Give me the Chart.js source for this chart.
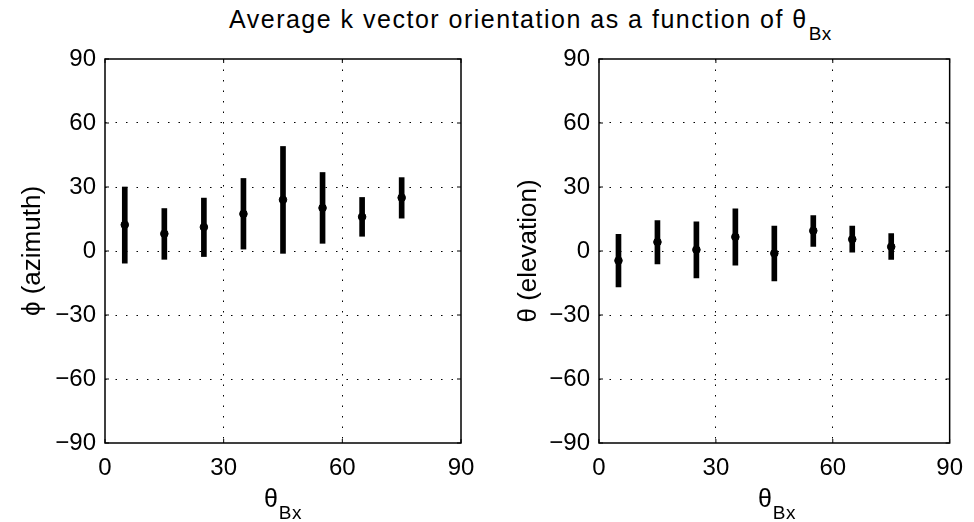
<!DOCTYPE html>
<html>
<head>
<meta charset="utf-8">
<script src="https://cdn.jsdelivr.net/npm/chart.js@4.4.1/dist/chart.umd.min.js"></script>
<style>
  html, body { margin:0; padding:0; background:#fff; }
  body { width:974px; height:522px; position:relative; overflow:hidden; font-family:"Liberation Sans", Arial, sans-serif; color:#000; }
  .cv { position:absolute; top:0; width:487px; height:522px; }
  #title { position:absolute; left:229px; top:4px; font-size:25px; letter-spacing:1.5px; white-space:nowrap; line-height:30px; }
  .xt { position:absolute; top:483px; font-size:25px; white-space:nowrap; line-height:30px; transform:translateX(-50%); }
  .sub { font-size:19px; position:relative; top:12px; margin-left:1px; letter-spacing:0.5px; }
</style>
</head>
<body>
<div id="title">Average k vector orientation as a function of θ<span class="sub">Bx</span></div>
<div class="cv" style="left:0"><canvas id="c1" width="487" height="522"></canvas></div>
<div class="cv" style="left:487px"><canvas id="c2" width="487" height="522"></canvas></div>
<div class="xt" style="left:283px">θ<span class="sub">Bx</span></div>
<div class="xt" style="left:777px">θ<span class="sub">Bx</span></div>
<script>
// ---- data ----
const thetaBx   = [5, 15, 25, 35, 45, 55, 65, 75];
const phiMean   = [12.3, 8.1, 11.2, 17.4, 24.0, 20.2, 16.0, 25.0];
const phiLow    = [-5.7, -3.9, -2.6, 0.9, -1.1, 3.6, 6.9, 15.4];
const phiHigh   = [30.0, 19.9, 24.8, 34.0, 49.0, 36.8, 25.1, 34.4];
const thetaMean = [-4.5, 4.2, 0.6, 6.6, -1.1, 9.5, 5.5, 2.0];
const thetaLow  = [-16.8, -6.0, -12.6, -6.6, -14.0, 2.2, -0.6, -4.0];
const thetaHigh = [7.8, 14.3, 13.7, 19.8, 11.7, 16.6, 11.7, 8.2];
const xTicks = [0, 30, 60, 90];
const yTicks = [-90, -60, -30, 0, 30, 60, 90];

const FONT = "'Liberation Sans', Arial, Helvetica, sans-serif";

const boxPlugin = {
  id: 'box',
  afterDraw(chart) {
    const {ctx, chartArea: a, scales} = chart;
    ctx.save();
    ctx.strokeStyle = '#000';
    ctx.lineWidth = 1.5;
    ctx.strokeRect(a.left, a.top, a.right - a.left, a.bottom - a.top);
    ctx.lineWidth = 1;
    const L = 4;
    ctx.beginPath();
    xTicks.forEach(v => {
      const px = scales.x.getPixelForValue(v);
      ctx.moveTo(px, a.bottom); ctx.lineTo(px, a.bottom - L);
      ctx.moveTo(px, a.top); ctx.lineTo(px, a.top + L);
    });
    yTicks.forEach(v => {
      const py = scales.y.getPixelForValue(v);
      ctx.moveTo(a.left, py); ctx.lineTo(a.left + L, py);
      ctx.moveTo(a.right, py); ctx.lineTo(a.right - L, py);
    });
    ctx.stroke();
    ctx.restore();
  }
};

function makeChart(id, means, lows, highs, yTitle, yAxisWidth, padRight, titlePad) {
  const bars = thetaBx.map((x, i) => ({x: x, y: [lows[i], highs[i]]}));
  const pts = thetaBx.map((x, i) => ({x: x, y: means[i]}));
  const gridColor = (ctx) => {
    const v = ctx.tick && ctx.tick.value;
    return (v === -90 || v === 90 || v === 0 && ctx.scale.axis === 'x') ? 'rgba(0,0,0,0)' : '#000';
  };
  return new Chart(document.getElementById(id), {
    type: 'bar',
    data: {
      datasets: [
        { type: 'bar', data: bars, backgroundColor: '#000', borderWidth: 0, barThickness: 5, order: 2 },
        { type: 'scatter', data: pts, backgroundColor: '#000', borderColor: '#000', pointRadius: 3.8, pointHoverRadius: 3.8, order: 1 }
      ]
    },
    options: {
      responsive: false,
      animation: false,
      events: [],
      layout: { padding: { top: 59, right: padRight, left: 0, bottom: 0 } },
      plugins: { legend: { display: false }, tooltip: { enabled: false } },
      scales: {
        x: {
          type: 'linear', min: 0, max: 90, offset: false,
          afterBuildTicks: (s) => { s.ticks = xTicks.map(v => ({value: v})); },
          afterFit: (s) => { s.height = 79; },
          grid: { offset: false, color: gridColor, lineWidth: 1, drawTicks: false },
          border: { display: false, dash: [1.5, 9] },
          ticks: { color: '#000', font: { family: FONT, size: 24 }, padding: 11, maxRotation: 0, autoSkip: false }
        },
        y: {
          type: 'linear', min: -90, max: 90,
          afterBuildTicks: (s) => { s.ticks = yTicks.map(v => ({value: v})); },
          afterFit: (s) => { s.width = yAxisWidth; },
          grid: { color: gridColor, lineWidth: 1, drawTicks: false },
          border: { display: false, dash: [1.5, 9] },
          ticks: { color: '#000', font: { family: FONT, size: 24 }, padding: 9,
                   callback: (v) => (v < 0 ? '\u2212' + Math.abs(v) : String(v)) },
          title: { display: true, text: yTitle, color: '#000', font: { family: FONT, size: 26 }, padding: { top: titlePad, bottom: 0 } }
        }
      }
    },
    plugins: [boxPlugin]
  });
}

makeChart('c1', phiMean, phiLow, phiHigh, '\u03D5 (azimuth)', 105, 26, 17);
makeChart('c2', thetaMean, thetaLow, thetaHigh, 'θ (elevation)', 112, 19, 26);
</script>
</body>
</html>
